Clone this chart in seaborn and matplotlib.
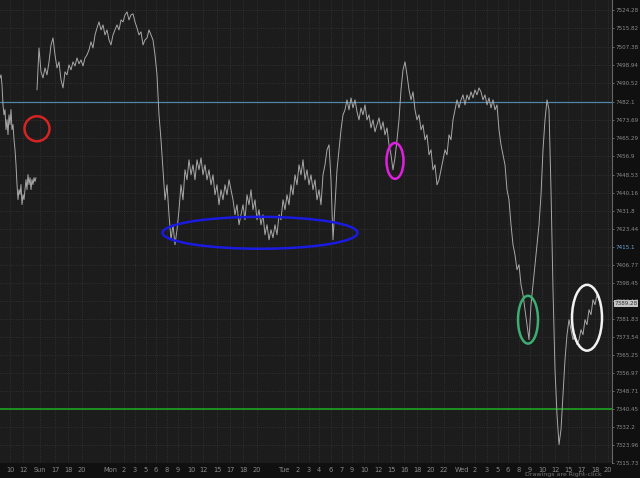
import numpy as np
import pandas as pd
import matplotlib
matplotlib.use('Agg')
import matplotlib.pyplot as plt
from matplotlib.patches import Ellipse
import seaborn as sns

# price data (bar index = time position)
seg1_start, seg1_step = 0, 1
seg1_prices = [7493.0, 7494.4, 7489.8, 7480.6, 7476.0, 7478.4, 7469.2, 7473.8, 7466.9, 7476.0,
               7471.5, 7478.4, 7469.2, 7471.5, 7464.6, 7460.0, 7453.1, 7443.9, 7437.0, 7441.6,
               7439.3, 7443.9, 7434.7, 7439.3, 7437.0, 7441.6, 7446.2, 7441.6, 7448.5, 7443.9,
               7447.1, 7441.6, 7446.2, 7443.9, 7447.1, 7445.3, 7447.1]

seg2_start, seg2_step = 37, 2
seg2_prices = [7487.5, 7506.8, 7495.8, 7493.0, 7497.6, 7494.4, 7500.4, 7508.2, 7511.4, 7503.6,
               7497.6, 7500.4, 7492.1, 7488.4, 7495.8, 7494.4, 7499.0, 7496.7, 7500.4, 7498.5,
               7502.2, 7499.5, 7501.3, 7498.5, 7502.2, 7503.6, 7505.9, 7509.6, 7506.8, 7512.8,
               7516.0, 7518.8, 7515.1, 7517.4, 7512.8, 7515.1, 7510.5, 7508.2, 7512.8, 7515.1,
               7517.4, 7515.1, 7519.7, 7518.8, 7522.0, 7523.4, 7519.7, 7522.0, 7522.5, 7518.8,
               7516.0, 7512.8, 7514.2, 7508.2, 7510.5, 7511.4, 7515.1, 7512.8, 7510.5, 7503.6,
               7494.4, 7476.0, 7464.5, 7450.7, 7436.9, 7443.8, 7430.0, 7418.5, 7425.4, 7416.2,
               7423.1, 7432.3, 7443.8, 7436.9, 7450.7, 7446.1, 7455.3, 7448.4, 7453.0, 7446.1,
               7455.3, 7450.7, 7456.2, 7448.4, 7453.0, 7446.1, 7450.7, 7443.8, 7448.4, 7439.2,
               7443.8, 7434.6, 7441.5, 7436.9, 7443.8, 7439.2, 7446.1, 7441.5, 7436.9, 7430.0,
               7434.6, 7425.4, 7430.0, 7434.6, 7427.7, 7439.2, 7434.6, 7441.5, 7432.3, 7436.9,
               7427.7, 7432.3, 7425.4, 7430.0, 7420.8, 7425.4, 7418.5, 7423.1, 7419.4, 7425.4,
               7420.8, 7430.0, 7427.7, 7436.9, 7432.3, 7439.2, 7434.6, 7443.8, 7439.2, 7448.4,
               7443.8, 7453.0, 7448.4, 7455.3, 7446.1, 7450.7, 7443.8, 7448.4, 7441.5, 7446.1,
               7436.9, 7441.5, 7434.6, 7448.4, 7453.0, 7459.9, 7462.2, 7446.1, 7418.5, 7434.6,
               7450.7, 7459.9, 7469.1, 7476.0, 7478.3, 7482.9, 7478.3, 7483.8, 7479.2, 7482.9,
               7477.4, 7473.7, 7479.2, 7476.0, 7480.6, 7473.7, 7476.0, 7470.0, 7473.7, 7468.2,
               7471.4, 7474.6, 7469.1, 7472.8, 7466.8, 7470.0, 7462.2, 7457.6, 7450.7, 7456.2,
               7464.5, 7473.7, 7487.5, 7496.7, 7500.4, 7494.4, 7487.5, 7482.9, 7486.6, 7478.3,
               7473.7, 7476.0, 7469.1, 7471.4, 7464.5, 7466.8, 7457.6, 7459.9, 7450.7, 7453.0,
               7443.8, 7446.1, 7450.7, 7455.3, 7459.9, 7457.6, 7466.8, 7464.5, 7473.7, 7478.3,
               7482.9, 7479.2, 7482.9, 7485.2, 7480.6, 7485.2, 7482.9, 7486.6, 7483.8, 7487.5,
               7485.2, 7488.4, 7486.6, 7482.9, 7485.2, 7480.6, 7483.8, 7479.2, 7482.9, 7478.3,
               7480.6, 7469.1, 7462.2, 7457.6, 7453.0, 7441.5, 7436.9, 7425.4, 7416.2, 7411.6,
               7404.7, 7407.0, 7397.8, 7393.2, 7386.3, 7379.4, 7372.5, 7388.6, 7397.8, 7407.0,
               7416.2, 7425.4, 7439.2, 7459.9, 7473.7, 7482.9, 7478.3, 7441.5, 7395.5, 7358.7,
               7338.0, 7324.2, 7331.1, 7347.2, 7363.3, 7374.8, 7381.7, 7377.1, 7372.5, 7374.8,
               7370.2, 7372.5, 7377.1, 7374.8, 7381.7, 7379.4, 7386.3, 7384.0, 7390.9, 7388.6,
               7393.2, 7390.9]

last_price = 7389.28
resistance = 7482.1
support = 7340.45

y_ticks = [7524.28, 7515.82, 7507.38, 7498.94, 7490.52, 7482.1, 7473.69, 7465.29, 7456.9,
           7448.53, 7440.16, 7431.8, 7423.44, 7415.1, 7406.77, 7398.45, 7390.13, 7381.83,
           7373.54, 7365.25, 7356.97, 7348.71, 7340.45, 7332.2, 7323.96, 7315.73]

x_tick_pos = [10, 23, 40, 55, 68, 82, 110, 124, 135, 146, 156, 167, 178, 191, 203, 217, 230,
              243, 257, 285, 298, 309, 319, 331, 342, 352, 364, 378, 391, 404, 417, 431, 444,
              462, 475, 487, 498, 508, 519, 530, 542, 555, 568, 581, 595, 608]
x_tick_labels = ['10', '12', 'Sun', '17', '18', '20', 'Mon', '2', '3', '5', '6', '8', '9', '10',
                 '12', '15', '17', '18', '20', 'Tue', '2', '3', '4', '6', '7', '9', '10', '12',
                 '15', '16', '18', '20', '22', 'Wed', '2', '3', '5', '6', '8', '9', '10', '12',
                 '15', '17', '18', '20']

# drawn circles: (bar, price, width in bars, height in price, colour)
marks_bar = [37, 260, 395, 528, 587]
marks_price = [7469.6, 7421.7, 7454.8, 7381.7, 7382.6]
marks_w = [25, 195, 17, 20, 30]
marks_h = [11.5, 14.7, 16.5, 22.0, 30.3]
marks_col = ['#d42424', '#1a1ae0', '#e020e0', '#3cae72', '#f2f2f2']

df = pd.concat([
    pd.DataFrame({'bar': seg1_start + seg1_step * np.arange(len(seg1_prices)),
                  'price': seg1_prices, 'seg': 1}),
    pd.DataFrame({'bar': seg2_start + seg2_step * np.arange(len(seg2_prices)),
                  'price': seg2_prices, 'seg': 2}),
])

sns.set_theme(style='dark')
plt.rcParams['font.family'] = ['DejaVu Sans']

fig = plt.figure(figsize=(6.4, 4.78), dpi=100)
fig.patch.set_facecolor('#101010')
ax = fig.add_axes([0, 15 / 478, 612 / 640, 463 / 478])
ax.set_facecolor('#1c1c1c')

sns.lineplot(data=df, x='bar', y='price', units='seg', estimator=None,
             color='#a8a8a8', linewidth=0.7, ax=ax, zorder=3)

ax.axhline(resistance, color='#4f86a8', linewidth=0.9, zorder=2)
ax.axhline(support, color='#1fae1f', linewidth=1.1, zorder=2)

for b, p, w, h, c in zip(marks_bar, marks_price, marks_w, marks_h, marks_col):
    ax.add_patch(Ellipse((b, p), w, h, fill=False, edgecolor=c, linewidth=1.8, zorder=5))

ax.set_xlim(0, 612)
ax.set_ylim(7316.17, 7528.87)
ax.set_xlabel('')
ax.set_ylabel('')

ax.yaxis.tick_right()
ax.set_yticks(y_ticks)
ax.set_yticklabels([f'{v:g}' for v in y_ticks])
ax.tick_params(axis='y', colors='#8a8a8a', labelsize=4.1, length=1.5, width=0.5, pad=0.8)
for lbl, v in zip(ax.get_yticklabels(), y_ticks):
    if v == 7415.1:
        lbl.set_color('#6fa3d8')

ax.set_xticks(x_tick_pos)
ax.set_xticklabels(x_tick_labels)
ax.tick_params(axis='x', colors='#8a8a8a', labelsize=4.8, length=0, pad=3)

ax.grid(True, color='#363636', linestyle=':', linewidth=0.6)
for s in ['top', 'left', 'bottom']:
    ax.spines[s].set_visible(False)
ax.spines['right'].set_color('#666666')
ax.spines['right'].set_linewidth(0.8)

ax.text(1.004, last_price, f'{last_price:.2f}', transform=ax.get_yaxis_transform(),
        fontsize=4.1, color='#333333', va='center', ha='left', clip_on=False, zorder=10,
        bbox=dict(boxstyle='square,pad=0.15', facecolor='#c4c4c4', edgecolor='none'))

fig.text(0.82, 0.002, 'Drawings are Right-click', fontsize=4.5, color='#777777',
         ha='left', va='bottom')

fig.savefig('out.png', dpi=100, facecolor=fig.get_facecolor())
